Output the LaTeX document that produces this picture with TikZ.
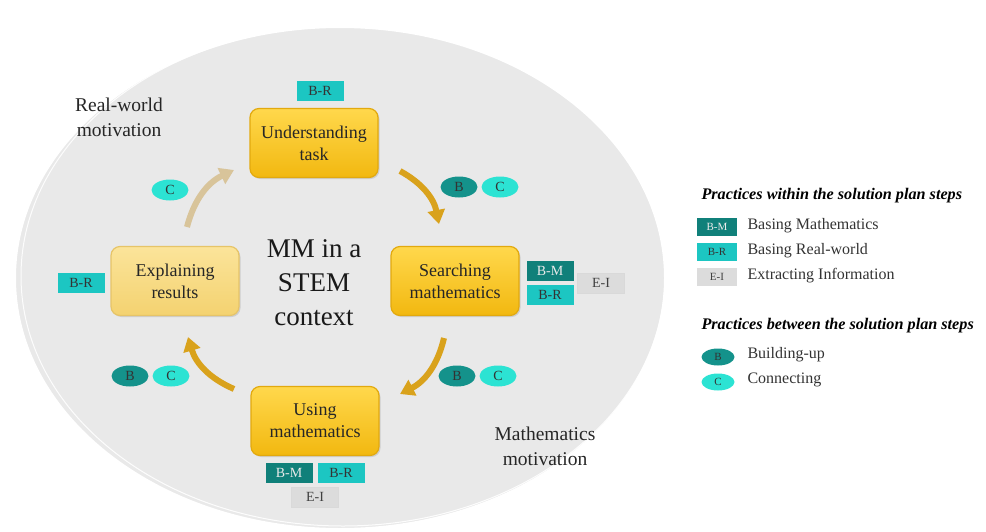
\documentclass[tikz,border=0pt]{standalone}
\usepackage{fontspec}
\setmainfont{Liberation Serif}
\usetikzlibrary{arrows.meta,shapes.geometric,shadows}
\definecolor{bgell}{HTML}{E9E9E9}
\definecolor{tealdark}{HTML}{10807A}
\definecolor{tealmid}{HTML}{1CC6C2}
\definecolor{eigray}{HTML}{DCDCDC}
\definecolor{ellB}{HTML}{14928B}
\definecolor{ellC}{HTML}{2CE3D3}
\definecolor{goldtop}{HTML}{FFD84C}
\definecolor{goldbot}{HTML}{F2B810}
\definecolor{goldedge}{HTML}{E2A90E}
\definecolor{paletop}{HTML}{FBE49A}
\definecolor{palebot}{HTML}{F4D270}
\definecolor{paleedge}{HTML}{E6C468}
\definecolor{arrowgold}{HTML}{D9A21C}
\definecolor{arrowpale}{HTML}{D8C49A}
\tikzset{
  stepbox/.style={rounded corners=9pt, minimum width=128pt, minimum height=69pt,
    align=center, font=\fontsize{18}{22}\selectfont, text=black!85,
    draw=goldedge, line width=1.2pt, top color=goldtop, bottom color=goldbot,
    drop shadow={shadow xshift=1.5pt, shadow yshift=-1.5pt, opacity=0.25}},
  palebox/.style={stepbox, draw=paleedge, top color=paletop, bottom color=palebot},
  tag/.style={minimum width=47pt, minimum height=20pt, inner sep=0pt,
    font=\fontsize{14}{14}\selectfont},
  tagBM/.style={tag, fill=tealdark, text=white!92!black},
  tagBR/.style={tag, fill=tealmid, text=black!80},
  tagEI/.style={tag, fill=eigray, draw=black!15, text=black!75},
  ltag/.style={minimum width=40pt, minimum height=18pt, inner sep=0pt,
    font=\fontsize{11}{11}\selectfont},
  ovB/.style={ellipse, fill=ellB, minimum width=37pt, minimum height=21pt, inner sep=0pt,
    font=\fontsize{14}{14}\selectfont, text=black!80},
  ovC/.style={ovB, fill=ellC},
  lovB/.style={ellipse, fill=ellB, minimum width=33pt, minimum height=17pt, inner sep=0pt,
    font=\fontsize{11}{11}\selectfont, text=black!80},
  lovC/.style={lovB, fill=ellC},
  flow/.style={line width=6pt, draw=arrowgold, -{Triangle[width=17pt,length=14pt]}},
  flowpale/.style={flow, draw=arrowpale},
  legtext/.style={anchor=west, font=\fontsize{16}{16}\selectfont, text=black!80},
  leghead/.style={anchor=west, font=\fontsize{16.2}{16.2}\selectfont\bfseries\itshape},
  motiv/.style={align=center, font=\fontsize{19.5}{25}\selectfont, text=black!85}
}
\begin{document}
\begin{tikzpicture}[x=1pt,y=-1pt]
\useasboundingbox (0,0) rectangle (986,531);
\fill[white] (0,0) rectangle (986,531);
% background ellipse
\fill[bgell] (340,278) ellipse [x radius=325, y radius=251];
\draw[white, line width=2pt] (340,278) ellipse [x radius=325, y radius=251];
\draw[white, line width=1pt, opacity=0.9] (343,276) ellipse [x radius=322, y radius=250];

% step boxes
\node[stepbox] (ut) at (314,143) {Understanding\\task};
\node[stepbox] (sm) at (455,281) {Searching\\mathematics};
\node[stepbox] (um) at (315,421) {Using\\mathematics};
\node[palebox] (er) at (175,281) {Explaining\\results};

\node[align=center, font=\fontsize{27}{34}\selectfont, text=black!90] (mm) at (314,283) {MM in a\\STEM\\context};

% tags
\node[tagBR] (utBR) at (320,91) {B-R};
\node[tagBM] (smBM) at (550,271) {B-M};
\node[tagBR] (smBR) at (550,295) {B-R};
\node[tagEI] (smEI) at (601,283) {E-I};
\node[tagBR] (erBR) at (81,283) {B-R};
\node[tagBM] (umBM) at (289,473) {B-M};
\node[tagBR] (umBR) at (341,473) {B-R};
\node[tagEI] (umEI) at (315,497) {E-I};

% ovals
\node[ovB] (b1) at (459,187) {B};
\node[ovC] (c1) at (500,187) {C};
\node[ovB] (b2) at (457,376) {B};
\node[ovC] (c2) at (498,376) {C};
\node[ovB] (b3) at (130,376) {B};
\node[ovC] (c3) at (171,376) {C};
\node[ovC] (c4) at (170,190) {C};

% arrows
\coordinate (a1s) at (400,171);
\coordinate (a1e) at (439,224);
\coordinate (a2s) at (444,338);
\coordinate (a2e) at (400,394);
\coordinate (a3s) at (234,389);
\coordinate (a3e) at (188,337);
\coordinate (a4s) at (187,227);
\coordinate (a4e) at (234,170);
\draw[flow] (a1s) to[bend left=25] (a1e);
\draw[flow] (a2s) to[bend left=25] (a2e);
\draw[flow] (a3s) to[bend left=25] (a3e);
\draw[flowpale] (a4s) to[bend left=25] (a4e);

% motivations
\node[motiv] (rw) at (119,117) {Real-world\\motivation};
\node[motiv] (mt) at (545,446) {Mathematics\\motivation};

% legend
\node[leghead] (h1) at (698,196) {Practices within the solution plan steps};
\node[ltag, fill=tealdark, text=white!92!black] (lBM) at (717,227) {B-M};
\node[ltag, fill=tealmid, text=black!80] (lBR) at (717,252) {B-R};
\node[ltag, fill=eigray, text=black!75] (lEI) at (717,277) {E-I};
\node[legtext] (tBM) at (744,226) {Basing Mathematics};
\node[legtext] (tBR) at (744,251) {Basing Real-world};
\node[legtext] (tEI) at (744,276) {Extracting Information};
\node[leghead] (h2) at (698,326) {Practices between the solution plan steps};
\node[lovB] (lB) at (718,357) {B};
\node[lovC] (lC) at (718,382) {C};
\node[legtext] (tB) at (744,355) {Building-up};
\node[legtext] (tC) at (744,380) {Connecting};
\end{tikzpicture}
\end{document}
